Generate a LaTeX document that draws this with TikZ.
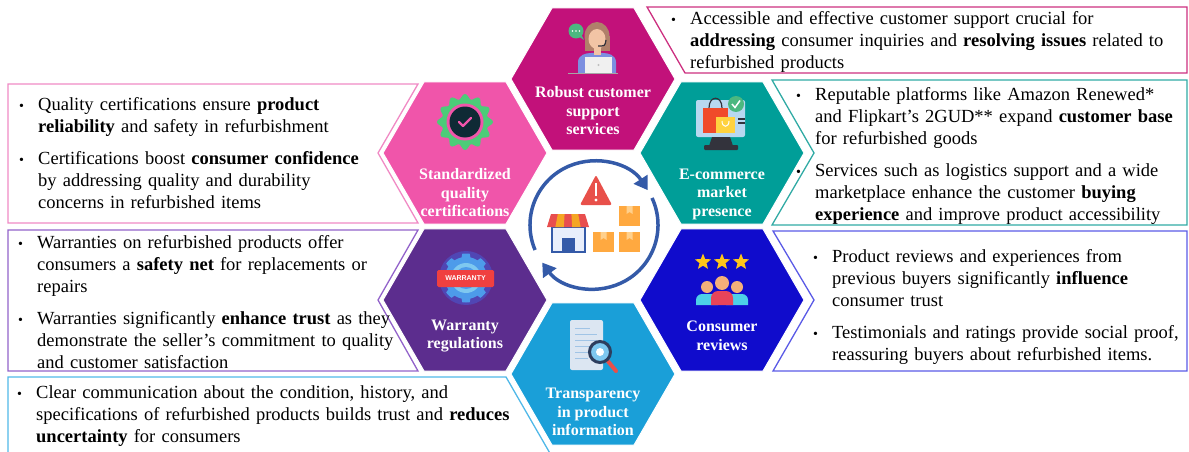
\documentclass[tikz,border=0pt]{standalone}
\usepackage{fontspec}
\setmainfont{Liberation Serif}
\newfontfamily\tagfont{Liberation Sans}
\usepackage{xcolor}
\usetikzlibrary{shapes.geometric,arrows.meta,positioning,calc}

\definecolor{robustc}{RGB}{194,17,122}
\definecolor{stdqc}{RGB}{240,85,170}
\definecolor{ecomc}{RGB}{0,158,152}
\definecolor{warrc}{RGB}{92,45,142}
\definecolor{consc}{RGB}{16,12,204}
\definecolor{transc}{RGB}{26,159,216}
\definecolor{robustln}{RGB}{204,48,128}
\definecolor{stdqln}{RGB}{240,138,196}
\definecolor{warrln}{RGB}{146,98,202}
\definecolor{transln}{RGB}{80,184,232}
\definecolor{ecomln}{RGB}{48,170,164}
\definecolor{consln}{RGB}{90,90,230}
\definecolor{cyclec}{RGB}{52,90,168}
\definecolor{warnc}{RGB}{232,80,74}
\definecolor{boxc}{RGB}{255,169,64}
\definecolor{boxtabc}{RGB}{255,208,140}
\definecolor{awnredc}{RGB}{232,78,78}
\definecolor{awnorc}{RGB}{245,166,35}
\definecolor{shopc}{RGB}{232,238,251}
\definecolor{hairc}{RGB}{176,128,106}
\definecolor{skinc}{RGB}{242,196,165}
\definecolor{shirtc}{RGB}{124,143,224}
\definecolor{bubblec}{RGB}{76,184,128}
\definecolor{badgec}{RGB}{76,204,120}
\definecolor{navyc}{RGB}{15,42,53}
\definecolor{screenc}{RGB}{184,216,240}
\definecolor{standc}{RGB}{51,51,60}
\definecolor{redbagc}{RGB}{240,74,42}
\definecolor{yellowbagc}{RGB}{255,210,63}
\definecolor{gearc}{RGB}{77,155,234}
\definecolor{gearhalo}{RGB}{80,70,180}
\definecolor{bannerc}{RGB}{240,64,64}
\definecolor{starc}{RGB}{255,198,26}
\definecolor{cyanc}{RGB}{77,208,232}
\definecolor{personc}{RGB}{232,68,90}
\definecolor{skin2c}{RGB}{244,176,122}
\definecolor{docc}{RGB}{220,230,242}
\definecolor{doclinec}{RGB}{160,196,230}
\definecolor{ringc}{RGB}{45,62,94}
\definecolor{lensc}{RGB}{126,200,240}

\newcommand\notefont{\fontsize{18.5}{22}\selectfont}
\newcommand\brk{\hfil\break}
\newcommand\bitem[1]{\hangindent=19pt\hangafter=1\noindent\makebox[19pt][l]{\fontsize{14}{14}\selectfont\textbullet}#1\par}

\begin{document}
\begin{tikzpicture}[x=1pt, y=1pt,
    hexcell/.style={regular polygon, regular polygon sides=6, minimum size=164pt, inner sep=0pt, draw=white, line width=1pt},
    hexlabel/.style={text=white, font=\fontsize{16}{18.5}\selectfont\bfseries, align=center, inner sep=0pt},
    callout/.style={line width=1.3pt, line join=miter},
    notes/.style={anchor=north west, inner sep=0pt, text width=#1, font=\notefont, execute at begin node={\setlength{\parskip}{10pt}}},
    cyclearrow/.style={draw=cyclec, line width=3.5pt, -{Triangle[length=13pt, width=16pt]}}
]
    \useasboundingbox (0,0) rectangle (1189,-452);
    \clip (0,0) rectangle (1189,-452);

    \node[hexcell, fill=robustc] (robust) at (593,-79) {};
    \node[hexcell, fill=stdqc] (stdq) at (465,-153) {};
    \node[hexcell, fill=ecomc] (ecom) at (722,-153) {};
    \node[hexcell, fill=warrc] (warr) at (465,-300) {};
    \node[hexcell, fill=consc] (cons) at (722,-300) {};
    \node[hexcell, fill=transc] (transp) at (593,-374) {};

    \node[hexlabel] (robustlbl) at ($(robust)+(0,-32)$) {Robust customer\\support\\services};
    \node[hexlabel] (stdqlbl) at ($(stdq)+(0,-40)$) {Standardized\\quality\\certifications};
    \node[hexlabel] (ecomlbl) at ($(ecom)+(0,-41)$) {E-commerce\\market\\presence};
    \node[hexlabel] (warrlbl) at ($(warr)+(0,-36)$) {Warranty\\regulations};
    \node[hexlabel] (conslbl) at ($(cons)+(0,-36)$) {Consumer\\reviews};
    \node[hexlabel] (transplbl) at ($(transp)+(0,-38)$) {Transparency\\in product\\information};

    \draw[callout, robustln] (647,-7) -- (1187,-7) -- (1187,-73) -- (685,-73) -- cycle;
    \draw[callout, stdqln] (8,-84) -- (418,-84) -- (378,-153) -- (418,-223) -- (8,-223) -- cycle;
    \draw[callout, warrln] (8,-230) -- (418,-230) -- (378,-300) -- (418,-371) -- (8,-371) -- cycle;
    \draw[callout, transln] (8,-462) -- (8,-377) -- (506,-377) -- (555,-462);
    \draw[callout, ecomln] (772,-80) -- (1187,-80) -- (1187,-225) -- (772,-225) -- (814,-153) -- cycle;
    \draw[callout, consln] (773,-231) -- (1187,-231) -- (1187,-371) -- (773,-371) -- (814,-300) -- cycle;

    \node[notes=530pt] (robustnote) at (671,-11) {\bitem{Accessible and effective customer support crucial for\brk \textbf{addressing} consumer inquiries and \textbf{resolving issues} related to\brk refurbished products}};
    \node[notes=400pt] (stdqnote) at (19,-97) {\bitem{Quality certifications ensure \textbf{product}\brk \textbf{reliability} and safety in refurbishment}\bitem{Certifications boost \textbf{consumer confidence}\brk by addressing quality and durability\brk concerns in refurbished items}};
    \node[notes=420pt] (warrnote) at (18,-235) {\bitem{Warranties on refurbished products offer\brk consumers a \textbf{safety net} for replacements or\brk repairs}\bitem{Warranties significantly \textbf{enhance trust} as they\brk demonstrate the seller's commitment to quality\brk and customer satisfaction}};
    \node[notes=520pt] (transpnote) at (17,-385) {\bitem{Clear communication about the condition, history, and\brk specifications of refurbished products builds trust and \textbf{reduces}\brk \textbf{uncertainty} for consumers}};
    \node[notes=420pt] (ecomnote) at (796,-87) {\bitem{Reputable platforms like Amazon Renewed*\brk and Flipkart's 2GUD** expand \textbf{customer base}\brk for refurbished goods}\bitem{Services such as logistics support and a wide\brk marketplace enhance the customer \textbf{buying}\brk \textbf{experience} and improve product accessibility}};
    \node[notes=400pt] (consnote) at (813,-249) {\bitem{Product reviews and experiences from\brk previous buyers significantly \textbf{influence}\brk consumer trust}\bitem{Testimonials and ratings provide social proof,\brk reassuring buyers about refurbished items.}};

    % hub: circular arrows, warning sign, shop and parcels
    \coordinate (hub) at (594,-225);
    \draw[cyclearrow] ([shift={(203:64)}]hub) arc[start angle=203, end angle=33, radius=64];
    \draw[cyclearrow] ([shift={(25:64)}]hub) arc[start angle=25, end angle=-144, radius=64];
    \fill[warnc, rounded corners=2pt] (580,-205) -- (612,-205) -- (596,-175) -- cycle;
    \fill[white] (594.6,-183) rectangle (597.4,-196);
    \fill[white] (596,-200) circle (1.7);
    \filldraw[fill=shopc, draw=cyclec, line width=1.2pt] (552,-227) rectangle (585,-252);
    \fill[cyclec] (562,-238) rectangle (575,-252);
    \fill[awnredc] (547,-227) -- (551,-214) -- (585,-214) -- (589,-227) -- cycle;
    \fill[awnorc] (555.4,-227) -- (557.8,-214) -- (564.6,-214) -- (563.8,-227) -- cycle;
    \fill[awnorc] (572.2,-227) -- (571.4,-214) -- (578.2,-214) -- (580.6,-227) -- cycle;
    \fill[boxc] (619,-206) rectangle (640,-226);
    \fill[boxc] (593,-232) rectangle (614,-252);
    \fill[boxc] (619,-232) rectangle (640,-252);
    \fill[boxtabc] (626.5,-206) -- (626.5,-214) -- (629.5,-212) -- (632.5,-214) -- (632.5,-206) -- cycle;
    \fill[boxtabc] (600.5,-232) -- (600.5,-240) -- (603.5,-238) -- (606.5,-240) -- (606.5,-232) -- cycle;
    \fill[boxtabc] (626.5,-232) -- (626.5,-240) -- (629.5,-238) -- (632.5,-240) -- (632.5,-232) -- cycle;

    % support agent
    \fill[hairc] (597,-36) ellipse (12.5 and 14);
    \fill[hairc] (584.5,-36) rectangle (609.5,-51);
    \fill[shirtc] (578,-73) -- (578,-62) .. controls (578,-55) and (586,-53) .. (591,-53) -- (603,-53) .. controls (608,-53) and (616,-55) .. (616,-62) -- (616,-73) -- cycle;
    \fill[skinc] (593.5,-46) rectangle (600.5,-55);
    \fill[skinc] (597,-39) ellipse (8.5 and 10);
    \draw[standc, line width=1.2pt] (606,-40) .. controls (605,-46) .. (598,-46);
    \fill[gray!12] (585,-57) rectangle (612,-73);
    \fill[gray!50] (598.5,-65) circle (1.2);
    \draw[gray!70, line width=1pt] (568,-73.5) -- (618,-73.5);
    \fill[bubblec] (576,-31) circle (7.5);
    \fill[bubblec] (578,-36) -- (584,-40) -- (581,-34) -- cycle;
    \fill[white] (572.5,-31) circle (0.9) (576,-31) circle (0.9) (579.5,-31) circle (0.9);

    % certification badge
    \begin{scope}[shift={(465,-122)}]
        \fill[badgec] plot[domain=0:357, samples=120] (\x:{25.5+2.5*cos(12*\x)}) -- cycle;
        \fill[stdqc] (0,0) circle (18.5);
        \fill[navyc] (0,0) circle (15.5);
        \draw[stdqc, line width=2.2pt, line cap=round, line join=round] (-6,0) -- (-2,-4) -- (6,4);
    \end{scope}

    % online shop monitor
    \fill[screenc, rounded corners=2pt] (696,-100) rectangle (745,-137);
    \fill[standc] (712,-137) -- (730,-137) -- (733,-146) -- (709,-146) -- cycle;
    \fill[standc, rounded corners=1pt] (704,-145) rectangle (738,-150);
    \draw[standc, line width=1.2pt] (709,-108) .. controls (709,-95) and (722,-95) .. (722,-108);
    \fill[redbagc] (703,-108) rectangle (728,-133);
    \fill[yellowbagc] (716,-117) rectangle (735,-133);
    \draw[white, line width=1pt] (722,-121) .. controls (722,-128) and (729,-128) .. (729,-121);
    \draw[standc, line width=1.2pt] (738,-119) -- (745,-119) (738,-123) -- (745,-123);
    \fill[bubblec] (736,-104) circle (8);
    \draw[white, line width=1.5pt] (732,-104) -- (735,-107.5) -- (740,-100.5);

    % warranty gear
    \begin{scope}[shift={(466,-278)}]
        \fill[gearhalo] (0,0) circle (27);
        \fill[gearc] plot[domain=0:357, samples=120] (\x:{21+3.5*(cos(8*\x)>0.3)}) -- cycle;
        \fill[lensc] (0,0) circle (15);
        \fill[gearc] (0,0) circle (11);
        \fill[bannerc, rounded corners=1.5pt] (-29,8) rectangle (28,-9);
    \end{scope}
    \node[text=white, font=\tagfont\bfseries\fontsize{7}{7}\selectfont, inner sep=0pt] (warrtag) at (465.5,-278.5) {WARRANTY};

    % rating stars and people
    \node[star, star points=5, star point ratio=2.3, fill=starc, minimum size=17pt, inner sep=0pt] (star1) at (703,-262) {};
    \node[star, star points=5, star point ratio=2.3, fill=starc, minimum size=17pt, inner sep=0pt] (star2) at (722,-262) {};
    \node[star, star points=5, star point ratio=2.3, fill=starc, minimum size=17pt, inner sep=0pt] (star3) at (741,-262) {};
    \fill[skin2c] (707,-287) circle (6);
    \fill[skin2c] (737,-287) circle (6);
    \fill[cyanc] (696,-305) [rounded corners=6pt] -- (696,-294) -- (718,-294) [sharp corners] -- (718,-305) -- cycle;
    \fill[cyanc] (726,-305) [rounded corners=6pt] -- (726,-294) -- (748,-294) [sharp corners] -- (748,-305) -- cycle;
    \fill[skin2c] (722,-283) circle (7);
    \fill[personc] (711,-305) [rounded corners=7pt] -- (711,-291) -- (733,-291) [sharp corners] -- (733,-305) -- cycle;

    % document under magnifier
    \fill[docc, rounded corners=2pt] (570,-320) rectangle (603,-370);
    \draw[doclinec, line width=1pt] (575,-328) -- (590,-328) (575,-334) -- (597,-334) (575,-340) -- (597,-340) (575,-346) -- (590,-346) (575,-352) -- (588,-352) (575,-358) -- (588,-358);
    \draw[warnc, line width=4pt, line cap=round] (607,-360) -- (616,-371);
    \filldraw[fill=lensc, draw=ringc, line width=3pt] (600,-352) circle (10.5);
    \fill[white] (600,-352) circle (4);
\end{tikzpicture}
\end{document}
